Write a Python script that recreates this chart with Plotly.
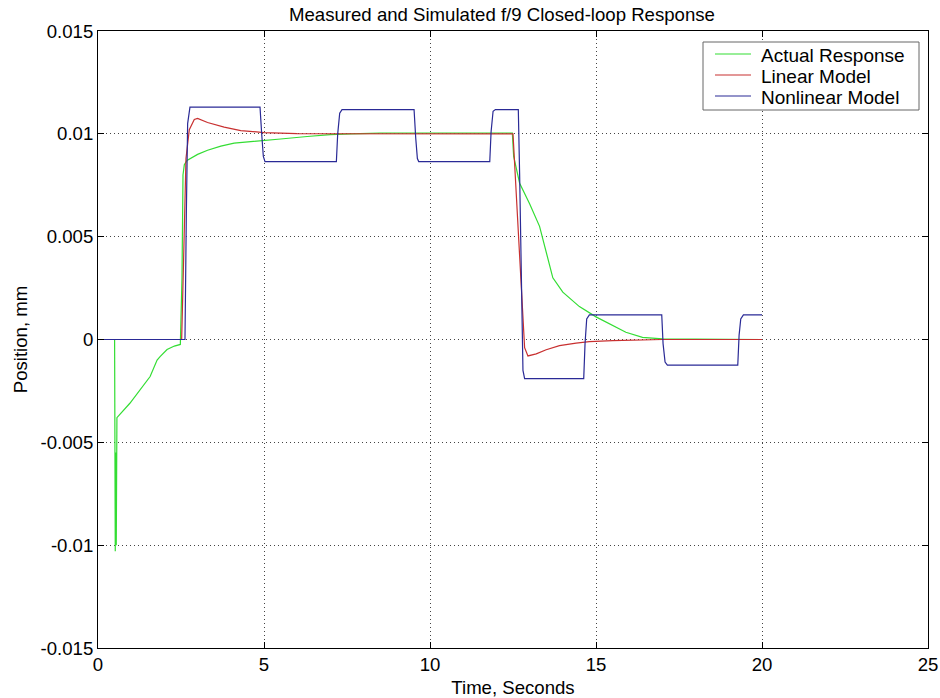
import plotly.graph_objects as go

# Actual Response (measured)
t_actual = [0.50, 0.51, 0.52, 0.54, 0.55, 0.57, 0.96, 1.57, 1.78, 1.87, 2.08, 2.30, 2.48,
            2.53, 2.56, 2.60, 2.68, 3.0, 3.3, 3.7, 4.1, 4.6, 5.0, 5.5, 6.3, 7.0, 7.6,
            8.5, 12.48, 12.52, 12.7, 13.0, 13.3, 13.5, 13.7, 14.0, 14.5, 15.0, 15.4,
            15.9, 16.4, 17.0, 20.0]
y_actual = [0.0, -0.0060, -0.0103, -0.0055, -0.0100, -0.0038, -0.0031, -0.0018, -0.0010,
            -0.00083, -0.00049, -0.00032, -0.00024, 0.0030, 0.0080, 0.0085, 0.0087, 0.0090,
            0.0092, 0.0094, 0.00955, 0.00962, 0.00967, 0.00975, 0.00987, 0.00996, 0.0100,
            0.01003, 0.01003, 0.0089, 0.0076, 0.0066, 0.0055, 0.0043, 0.0030, 0.0023,
            0.0016, 0.0011, 0.00075, 0.00035, 0.0001, 0.00003, 0.0]

# Linear Model
t_linear = [0.0, 2.52, 2.58, 2.65, 2.75, 2.9, 3.0, 3.3, 3.8, 4.3, 5.0, 6.0, 12.5,
            12.6, 12.75, 12.85, 12.95, 13.2, 13.5, 13.9, 14.4, 14.8, 15.5, 16.5, 17.0, 20.0]
y_linear = [0.0, 0.0, 0.004, 0.0088, 0.0102, 0.0107, 0.01075, 0.01055, 0.01033, 0.01016,
            0.01006, 0.01001, 0.0100, 0.0070, 0.0020, -0.0004, -0.0008, -0.0007, -0.0005,
            -0.0003, -0.00018, -0.0001, -0.00005, -0.00001, 0.0, 0.0]

# Nonlinear Model
t_nonlin = [0.0, 2.62, 2.66, 2.70, 2.77, 4.88, 4.93, 4.98, 5.03, 7.18, 7.22, 7.28, 7.35,
            9.52, 9.57, 9.62, 9.66, 11.80, 11.84, 11.90, 11.97, 12.66, 12.70, 12.76, 12.80,
            12.85, 14.63, 14.67, 14.72, 14.80, 16.98, 17.02, 17.08, 17.15, 19.27, 19.31,
            19.36, 19.44, 20.0]
y_nonlin = [0.0, 0.0, 0.0060, 0.0105, 0.0113, 0.0113, 0.0100, 0.0089, 0.00865, 0.00865,
            0.0100, 0.0110, 0.01118, 0.01118, 0.0098, 0.0088, 0.00865, 0.00865, 0.0101,
            0.0111, 0.01118, 0.01118, 0.0080, 0.0020, -0.0015, -0.0019, -0.0019, -0.0002,
            0.0010, 0.0012, 0.0012, -0.0002, -0.0011, -0.00125, -0.00125, 0.0002, 0.0010,
            0.0012, 0.0012]

series_names = ["Actual Response", "Linear Model", "Nonlinear Model"]
series_colors = ["#33dd33", "#c83030", "#2a2a96"]

x_ticks = [0, 5, 10, 15, 20, 25]
y_ticks = [-0.015, -0.01, -0.005, 0, 0.005, 0.01, 0.015]
y_tick_text = ["-0.015", "-0.01", "-0.005", "0", "0.005", "0.01", "0.015"]

FONT = "Liberation Sans, Arial, sans-serif"
FS = 18.6

W, H = 940, 698
ML, MR, MT, MB = 98, 12, 31, 50
PW, PH = W - ML - MR, H - MT - MB


def px(xp):
    return (xp - ML) / PW


def py(yp):
    return (H - MB - yp) / PH


fig = go.Figure()
for tx, ty, nm, col in zip([t_actual, t_linear, t_nonlin],
                           [y_actual, y_linear, y_nonlin],
                           series_names, series_colors):
    fig.add_trace(go.Scatter(x=tx, y=ty, mode="lines", name=nm,
                             line=dict(color=col, width=1.2), showlegend=False))

axis_common = dict(
    showline=True, linecolor="black", linewidth=1, mirror="allticks",
    ticks="inside", ticklen=6, tickcolor="black",
    showgrid=True, gridcolor="#444444", griddash="1px,3px", gridwidth=1,
    zeroline=False, automargin=False,
    tickfont=dict(family=FONT, size=FS, color="black"),
)

# legend box (MATLAB-style compact legend)
shapes = [dict(type="rect", xref="paper", yref="paper",
               x0=px(703), x1=px(919), y0=py(110), y1=py(42),
               fillcolor="white", line=dict(color="#666666", width=1), layer="above")]
annotations = []
row_y = [54, 75, 96]
for ry, nm, col in zip(row_y, series_names, series_colors):
    shapes.append(dict(type="line", xref="paper", yref="paper",
                       x0=px(715), x1=px(751), y0=py(ry), y1=py(ry),
                       line=dict(color=col, width=1.2), layer="above"))
    annotations.append(dict(text=nm, xref="paper", yref="paper", x=px(759), y=py(ry + 1),
                            xanchor="left", yanchor="middle", showarrow=False,
                            font=dict(family=FONT, size=19, color="black")))

fig.update_layout(
    width=W, height=H,
    margin=dict(l=ML, r=MR, t=MT, b=MB),
    paper_bgcolor="white", plot_bgcolor="white",
    font=dict(family=FONT, color="black"),
    title=dict(text="Measured and Simulated f/9 Closed-loop Response",
               font=dict(family=FONT, size=FS, color="black"),
               x=0.534, xref="container", xanchor="center",
               y=1 - 14 / H, yref="container", yanchor="middle"),
    xaxis=dict(range=[0, 25], tickvals=x_ticks, **axis_common,
               title=dict(text="Time, Seconds", standoff=6,
                          font=dict(family=FONT, size=FS, color="black"))),
    yaxis=dict(range=[-0.015, 0.015], tickvals=y_ticks, ticktext=y_tick_text, **axis_common,
               title=dict(text="Position, mm", standoff=8,
                          font=dict(family=FONT, size=FS, color="black"))),
    shapes=shapes,
    annotations=annotations,
    showlegend=False,
)

fig.write_html("out.html")
